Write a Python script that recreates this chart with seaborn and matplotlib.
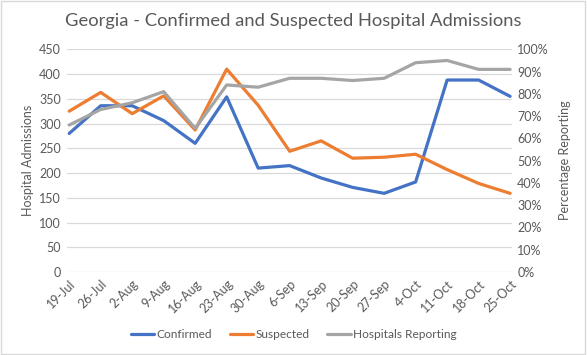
import matplotlib
matplotlib.use("Agg")
import matplotlib.pyplot as plt
import matplotlib.ticker as mtick
from matplotlib.lines import Line2D
from matplotlib.patches import Rectangle
import pandas as pd
import seaborn as sns

# Weekly data
weeks = ["19-Jul", "26-Jul", "2-Aug", "9-Aug", "16-Aug", "23-Aug", "30-Aug", "6-Sep",
         "13-Sep", "20-Sep", "27-Sep", "4-Oct", "11-Oct", "18-Oct", "25-Oct"]
confirmed = [280, 336, 336, 306, 260, 354, 210, 215, 190, 171, 159, 182, 388, 388, 355]
suspected = [325, 363, 320, 356, 287, 410, 337, 244, 265, 230, 232, 238, 207, 179, 159]
reporting = [0.66, 0.73, 0.76, 0.81, 0.645, 0.84, 0.83, 0.87, 0.87, 0.86, 0.87, 0.94, 0.95, 0.91, 0.91]

df = pd.DataFrame({"week": weeks, "Confirmed": confirmed,
                   "Suspected": suspected, "Hospitals Reporting": reporting})
df["pos"] = range(len(df))

blue = "#4472C4"
orange = "#ED7D31"
grey = "#A5A5A5"
text_col = "#595959"

sns.set_style("white")
plt.rcParams["font.family"] = ["Lato", "DejaVu Sans"]

fig = plt.figure(figsize=(5.87, 3.55), dpi=100)
ax = fig.add_axes([0.1136, 0.2338, 0.7581, 0.6272])
ax2 = ax.twinx()

sns.lineplot(data=df, x="pos", y="Confirmed", ax=ax, color=blue, linewidth=2.3)
sns.lineplot(data=df, x="pos", y="Suspected", ax=ax, color=orange, linewidth=2.3)
sns.lineplot(data=df, x="pos", y="Hospitals Reporting", ax=ax2, color=grey, linewidth=2.3)

ax.set_ylim(0, 450)
ax.set_yticks(range(0, 451, 50))
ax2.set_ylim(0, 1.0)
ax2.set_yticks([i / 10 for i in range(11)])
ax2.yaxis.set_major_formatter(mtick.PercentFormatter(1.0, decimals=0))

ax.set_xlim(-0.08, len(weeks) - 0.95)
ax.set_xticks(df["pos"])
ax.set_xticklabels(weeks, rotation=45, ha="right", rotation_mode="anchor")

ax.grid(axis="y", color="#D9D9D9", linewidth=0.9)
ax.set_axisbelow(True)
for a in (ax, ax2):
    for s in a.spines.values():
        s.set_visible(False)
    a.tick_params(length=0, labelsize=9, colors=text_col, pad=4)

ax.set_xlabel("")
ax.set_ylabel("Hospital Admissions", fontsize=9, color=text_col, labelpad=4)
ax2.set_ylabel("Percentage Reporting", fontsize=9, color=text_col, labelpad=7)

fig.text(0.5, 0.942, "Georgia - Confirmed and Suspected Hospital Admissions",
         ha="center", va="center", fontsize=13.2, color=text_col)

handles = [Line2D([0], [0], color=c, linewidth=2.3) for c in (blue, orange, grey)]
fig.legend(handles, ["Confirmed", "Suspected", "Hospitals Reporting"],
           loc="center", bbox_to_anchor=(0.5, 0.058), ncol=3, frameon=False,
           fontsize=8.6, labelcolor=text_col, handlelength=2.0, columnspacing=1.5,
           handletextpad=0.15)

fig.patches.append(Rectangle((0.002, 0.003), 0.995, 0.993, transform=fig.transFigure,
                             fill=False, edgecolor="#D9D9D9", linewidth=1))

fig.savefig("out.png", dpi=100)
